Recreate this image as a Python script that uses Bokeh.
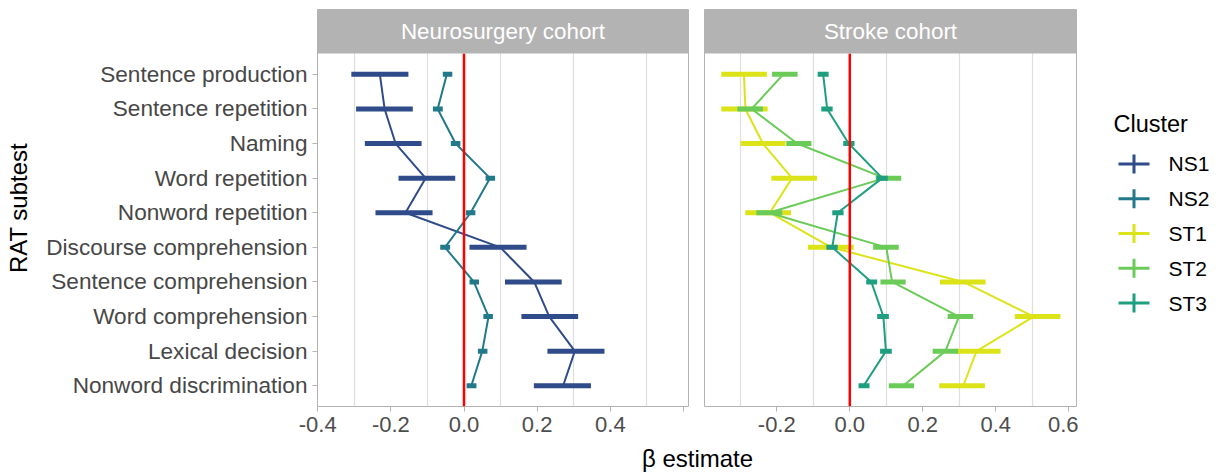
from bokeh.plotting import figure
from bokeh.models import Range1d, FixedTicker, BoxAnnotation, Label, NumeralTickFormatter
from bokeh.layouts import row, column
from bokeh.core.properties import value
from bokeh.embed import file_html
from bokeh.resources import INLINE

FONT = "Liberation Sans"

# ---------------- data ----------------
subtests = ["Sentence production", "Sentence repetition", "Naming", "Word repetition",
            "Nonword repetition", "Discourse comprehension", "Sentence comprehension",
            "Word comprehension", "Lexical decision", "Nonword discrimination"]

cohorts = ["Neurosurgery cohort", "Stroke cohort"]
clusters = ["NS1", "NS2", "ST1", "ST2", "ST3"]
cluster_colors = ["#2F4B8A", "#21798A", "#DCE319", "#6BCB58", "#1F9E80"]

ns1_est = [-0.230, -0.217, -0.187, -0.105, -0.160, 0.099, 0.192, 0.233, 0.303, 0.271]
ns1_lo = [-0.308, -0.295, -0.271, -0.179, -0.242, 0.015, 0.112, 0.157, 0.228, 0.191]
ns1_hi = [-0.152, -0.140, -0.116, -0.024, -0.086, 0.171, 0.267, 0.312, 0.384, 0.347]

ns2_est = [-0.047, -0.072, -0.023, 0.071, 0.018, -0.052, 0.027, 0.067, 0.050, 0.020]
ns2_lo = [-0.058, -0.085, -0.036, 0.059, 0.005, -0.065, 0.015, 0.053, 0.038, 0.007]
ns2_hi = [-0.032, -0.058, -0.010, 0.085, 0.031, -0.038, 0.041, 0.079, 0.064, 0.034]

st1_est = [-0.290, -0.286, -0.238, -0.158, -0.219, -0.051, 0.311, 0.504, 0.347, 0.311]
st1_lo = [-0.352, -0.352, -0.299, -0.215, -0.286, -0.115, 0.247, 0.452, 0.288, 0.245]
st1_hi = [-0.227, -0.225, -0.176, -0.090, -0.161, 0.011, 0.372, 0.577, 0.413, 0.370]

st2_est = [-0.182, -0.269, -0.144, 0.096, -0.222, 0.100, 0.116, 0.299, 0.262, 0.146]
st2_lo = [-0.213, -0.308, -0.174, 0.071, -0.256, 0.064, 0.084, 0.268, 0.227, 0.107]
st2_hi = [-0.143, -0.238, -0.105, 0.141, -0.185, 0.134, 0.153, 0.338, 0.297, 0.176]

st3_est = [-0.073, -0.062, -0.003, 0.089, -0.033, -0.048, 0.059, 0.092, 0.099, 0.038]
st3_lo = [-0.088, -0.078, -0.018, 0.073, -0.048, -0.064, 0.045, 0.075, 0.083, 0.024]
st3_hi = [-0.058, -0.047, 0.013, 0.104, -0.017, -0.033, 0.075, 0.107, 0.115, 0.054]

x_ticks = [-0.4, -0.2, 0.0, 0.2, 0.4, 0.6]
x_grid = [-0.3, -0.1, 0.1, 0.3, 0.5]
x_range_ns = (-0.4005, 0.6137)
x_range_st = (-0.398, 0.621)

# ---------------- helpers ----------------
n = len(subtests)
y_pos = [n - i for i in range(n)]
y_lo, y_hi = 0.4, n + 0.6
y_top = 11.874
GREY70 = "#B3B3B3"


def make_panel(title, xr, width, border_left, border_right, show_y, series):
    p = figure(width=width, height=442, x_range=Range1d(*xr), y_range=Range1d(y_lo, y_top),
               output_backend="svg", toolbar_location=None,
               y_axis_location="left" if show_y else None,
               min_border_left=border_left, min_border_right=border_right,
               min_border_top=9, min_border_bottom=36)
    p.outline_line_color = GREY70
    p.outline_line_width = 1
    p.background_fill_color = "white"
    p.border_fill_color = "white"

    p.ygrid.visible = False
    p.xgrid.ticker = FixedTicker(ticks=x_grid)
    p.xgrid.grid_line_color = "#DEDEDE"
    p.xgrid.grid_line_width = 1.2

    ax = p.xaxis[0]
    ax.ticker = FixedTicker(ticks=x_ticks)
    ax.formatter = NumeralTickFormatter(format="0.0")
    ax.axis_line_color = None
    ax.major_tick_line_color = GREY70
    ax.major_tick_out = 5
    ax.major_tick_in = 0
    ax.minor_tick_line_color = None
    ax.major_label_standoff = 5
    ax.major_label_text_font = FONT
    ax.major_label_text_font_size = "22px"
    ax.major_label_text_color = "#4D4D4D"
    if show_y:
        ax.major_label_overrides = {0.6: ""}

    if show_y:
        ay = p.yaxis[0]
        ay.ticker = FixedTicker(ticks=y_pos)
        ay.major_label_overrides = {y: s for y, s in zip(y_pos, subtests)}
        ay.axis_line_color = None
        ay.major_tick_line_color = GREY70
        ay.major_tick_out = 5
        ay.major_tick_in = 0
        ay.minor_tick_line_color = None
        ay.major_label_standoff = 5
        ay.major_label_text_font = FONT
        ay.major_label_text_font_size = "22.6px"
        ay.major_label_text_color = "#474747"
        ay.axis_label = "RAT subtest"
        ay.axis_label_text_font = FONT
        ay.axis_label_text_font_size = "24px"
        ay.axis_label_text_font_style = "normal"
        ay.axis_label_text_color = "black"
        ay.axis_label_standoff = 11

    for est, lo, hi, color in series:
        p.line(est, y_pos, line_color=color, line_width=2)
        p.segment(x0=lo, y0=y_pos, x1=hi, y1=y_pos, line_color=color,
                  line_width=5, line_cap="butt")

    # zero reference line
    p.segment(x0=[0], y0=[y_lo], x1=[0], y1=[y_hi], line_color="#FF0000", line_width=2.5)

    # facet strip
    p.add_layout(BoxAnnotation(bottom=y_hi, fill_color=GREY70, fill_alpha=1.0,
                               line_color=None, level="annotation"))
    p.add_layout(Label(x=(xr[0] + xr[1]) / 2, y=y_hi + 0.636, text=title,
                       text_align="center", text_baseline="middle",
                       text_color="white", text_font=FONT, text_font_size="22.4px"))
    return p


p1 = make_panel(cohorts[0], x_range_ns, 696, 317, 8, True,
                [(ns1_est, ns1_lo, ns1_hi, cluster_colors[0]),
                 (ns2_est, ns2_lo, ns2_hi, cluster_colors[1])])
p2 = make_panel(cohorts[1], x_range_st, 382, 8, 2, False,
                [(st1_est, st1_lo, st1_hi, cluster_colors[2]),
                 (st2_est, st2_lo, st2_hi, cluster_colors[3]),
                 (st3_est, st3_lo, st3_hi, cluster_colors[4])])

# ---------------- legend ----------------
pleg = figure(width=145, height=442, x_range=Range1d(1078, 1223), y_range=Range1d(442, 0),
              x_axis_location=None, y_axis_location=None, output_backend="svg",
              toolbar_location=None, min_border=0, outline_line_color=None)
pleg.grid.visible = False
leg_y = [172 + 38.7 * i for i in range(len(clusters))]
pleg.segment(x0=[1118] * len(clusters), y0=leg_y, x1=[1149] * len(clusters), y1=leg_y,
             line_color=cluster_colors, line_width=3, line_cap="butt")
pleg.segment(x0=[1133.5] * len(clusters), y0=[y - 10.5 for y in leg_y],
             x1=[1133.5] * len(clusters), y1=[y + 10.5 for y in leg_y],
             line_color=cluster_colors, line_width=3, line_cap="butt")
pleg.text(x=[1168] * len(clusters), y=leg_y, text=clusters, text_font=value(FONT),
          text_font_size=value("21px"), text_baseline="middle", text_align="left",
          text_color="black")
pleg.add_layout(Label(x=1113, y=128, text="Cluster", text_font=FONT, text_font_size="23.5px",
                      text_baseline="middle", text_align="left", text_color="black"))

# ---------------- shared x-axis title ----------------
pt = figure(width=1223, height=32, x_range=Range1d(0, 1223), y_range=Range1d(0, 32),
            x_axis_location=None, y_axis_location=None, output_backend="svg",
            toolbar_location=None, min_border=0, outline_line_color=None)
pt.grid.visible = False
pt.add_layout(Label(x=697, y=16, text="β estimate", text_font=FONT, text_font_size="24px",
                    text_align="center", text_baseline="middle", text_color="black"))

layout = column(row(p1, p2, pleg), pt)
open("out.html", "w").write(file_html(layout, INLINE))
